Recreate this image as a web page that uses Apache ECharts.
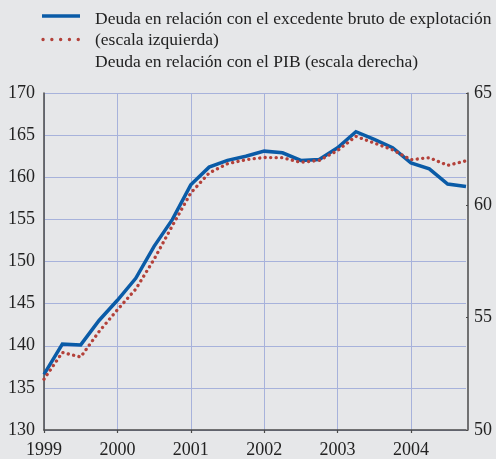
<!DOCTYPE html>
<html>
<head>
<meta charset="utf-8">
<script src="https://cdn.jsdelivr.net/npm/echarts@6/dist/echarts.min.js"></script>
<style>
html,body{margin:0;padding:0;background:#e6e7e9;}
#c{width:496px;height:459px;}
</style>
</head>
<body>
<div id="c"></div>
<script>
const quarters = ['1999T1','1999T2','1999T3','1999T4','2000T1','2000T2','2000T3','2000T4',
  '2001T1','2001T2','2001T3','2001T4','2002T1','2002T2','2002T3','2002T4',
  '2003T1','2003T2','2003T3','2003T4','2004T1','2004T2','2004T3','2004T4'];
const deudaEBE = [136.6,140.2,140.1,143.0,145.4,148.0,151.8,155.0,
  159.1,161.2,162.0,162.5,163.1,162.9,162.0,162.1,
  163.5,165.4,164.5,163.5,161.7,161.0,159.2,158.9];
const deudaPIB = [52.26,53.45,53.25,54.38,55.35,56.27,57.6,59.1,
  60.55,61.44,61.85,62.03,62.13,62.12,61.91,62.0,
  62.44,63.07,62.77,62.47,62.03,62.12,61.78,61.98];
const leftTicks = {min:130, max:170, interval:5};
const rightTicks = {min:50, max:65, interval:5};
const legendLines = ['Deuda en relación con el excedente bruto de explotación',
  '(escala izquierda)', 'Deuda en relación con el PIB (escala derecha)'];

const BLUE = '#0a5ba7', RED = '#b3413a', GRID = '#a7b2db', AXIS = '#4a4a4a';
const FONT = '"Liberation Serif","Times New Roman",serif';

const chart = echarts.init(document.getElementById('c'), null, {renderer:'canvas'});
chart.setOption({
  backgroundColor:'#e6e7e9',
  animation:false,
  textStyle:{fontFamily:FONT},
  grid:{left:44, right:30, top:93, bottom:29, containLabel:false},
  xAxis:{
    type:'category', data:quarters, boundaryGap:false,
    axisLine:{lineStyle:{color:AXIS, width:1.5}},
    axisTick:{show:true, interval:3, length:3, inside:false, lineStyle:{color:AXIS, width:1.2}},
    axisLabel:{interval:3, margin:11, color:'#222', fontSize:18, fontFamily:FONT,
      formatter:v=>v.slice(0,4)},
    splitLine:{show:true, interval:3, lineStyle:{color:GRID, width:1}}
  },
  yAxis:[{
    type:'value', min:leftTicks.min, max:leftTicks.max, interval:leftTicks.interval,
    axisLine:{show:true, lineStyle:{color:AXIS, width:1.5}},
    axisTick:{show:false},
    axisLabel:{margin:9, color:'#222', fontSize:18, fontFamily:FONT},
    splitLine:{show:true, lineStyle:{color:GRID, width:1}}
  },{
    type:'value', min:rightTicks.min, max:rightTicks.max, interval:rightTicks.interval,
    position:'right', offset:2,
    axisLine:{show:true, lineStyle:{color:AXIS, width:1.5}},
    axisTick:{show:true, inside:true, length:2, lineStyle:{color:AXIS, width:1.2}},
    axisLabel:{margin:6, color:'#222', fontSize:18, fontFamily:FONT},
    splitLine:{show:false}
  }],
  series:[{
    type:'line', data:deudaEBE, yAxisIndex:0, showSymbol:false, z:3,
    lineStyle:{color:BLUE, width:3.5, join:'miter'}
  },{
    type:'line', data:deudaPIB, yAxisIndex:1, showSymbol:false, z:4,
    lineStyle:{color:RED, width:3.3, type:[0.1,5.4], cap:'round'}
  }],
  graphic:[
    {type:'line', shape:{x1:42, y1:16, x2:80, y2:16}, style:{stroke:BLUE, lineWidth:3.5}},
    {type:'line', shape:{x1:43, y1:39.5, x2:80, y2:39.5}, style:{stroke:RED, lineWidth:3.3, lineDash:[0.1,8.7], lineCap:'round'}},
    {type:'text', x:95, y:19, style:{text:legendLines[0], font:'17.5px '+FONT, fill:'#222', textVerticalAlign:'middle'}},
    {type:'text', x:95, y:40.5, style:{text:legendLines[1], font:'17.5px '+FONT, fill:'#222', textVerticalAlign:'middle'}},
    {type:'text', x:95, y:62, style:{text:legendLines[2], font:'17.5px '+FONT, fill:'#222', textVerticalAlign:'middle'}}
  ]
});
</script>
</body>
</html>
